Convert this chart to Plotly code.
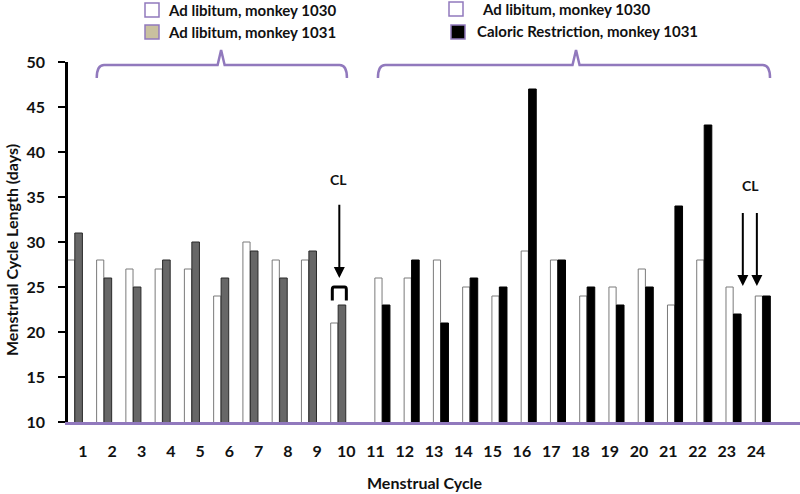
import plotly.graph_objects as go
import numpy as np

# ---- data ----
cycles = list(range(1, 25))
monkey1030 = [28, 28, 27, 27, 27, 24, 30, 28, 28, 21,
              26, 26, 28, 25, 24, 29, 28, 24, 25, 27, 23, 28, 25, 24]
monkey1031 = [31, 26, 25, 28, 30, 26, 29, 26, 29, 23,
              23, 28, 21, 26, 25, 47, 28, 25, 23, 25, 34, 43, 22, 24]
split = 10  # cycles 1-10 ad libitum, 11-24 caloric restriction for 1031
y_ticks = list(range(10, 51, 5))

legend_left = ["Ad libitum, monkey 1030", "Ad libitum, monkey 1031"]
legend_right = ["Ad libitum, monkey 1030", "Caloric Restriction, monkey 1031"]

FONT = "Lato"
PURPLE = "#9179bd"
INK = "#111111"

# geometry in screenshot pixels (body margin removed via post_script)
SL, ST, H = 68, 62, 360
W = 800 - SL
L, T = SL, ST
PITCH = 29.26                    # px per cycle
X0 = 1 - (83 - SL) / PITCH       # axis start so that cycle 1 sits at x=83
X1 = X0 + W / PITCH

def px(x):
    return (x - SL) / W
def py(y):
    return (ST + H - y) / H

c1 = np.array(cycles[:split]); c2 = np.array(cycles[split:])
shift1, shift2 = -0.28, 0.23
ww, wd = 0.245, 0.26

fig = go.Figure()
fig.add_trace(go.Bar(x=c1, y=monkey1030[:split],
                     offset=shift1 - ww - 0.01, width=ww,
                     marker=dict(color="white", line=dict(color="#7a7a7a", width=1))))
fig.add_trace(go.Bar(x=c1, y=monkey1031[:split],
                     offset=shift1, width=wd,
                     marker=dict(color="#676767", line=dict(color="#2a2a2a", width=1))))
fig.add_trace(go.Bar(x=c2, y=monkey1030[split:],
                     offset=shift2 - ww - 0.01, width=ww,
                     marker=dict(color="white", line=dict(color="#7a7a7a", width=1))))
fig.add_trace(go.Bar(x=c2, y=monkey1031[split:],
                     offset=shift2, width=wd,
                     marker=dict(color="black", line=dict(color="black", width=1))))

shapes = []
# brackets
def bracket(x0, x1, xc):
    yt = py(65); yb = py(78); yp = py(50)
    d = 0.25
    path = (f"M {x0},{yb} Q {x0},{yt} {x0 + d},{yt} L {xc - 0.12},{yt} "
            f"L {xc},{yp} L {xc + 0.12},{yt} L {x1 - d},{yt} Q {x1},{yt} {x1},{yb}")
    return dict(type="path", path=path, xref="x", yref="paper",
                line=dict(color=PURPLE, width=2.5))
shapes.append(bracket(1.47, 10.02, 5.72))
shapes.append(bracket(11.08, 24.48, 17.85))

# the small cap over cycle 10 bars
x0, x1, yt, yb = 9.52, 10.0, 25.0, 23.5
shapes.append(dict(type="path", xref="x", yref="y",
                   path=f"M {x0},{yb} L {x0},{yt - 0.3} Q {x0},{yt} {x0 + 0.06},{yt} "
                        f"L {x1 - 0.06},{yt} Q {x1},{yt} {x1},{yt - 0.3} L {x1},{yb}",
                   line=dict(color="black", width=3)))

# legend boxes
def box(x, y, fill):
    return dict(type="rect", xref="paper", yref="paper",
                x0=px(x), x1=px(x + 14), y0=py(y + 14), y1=py(y),
                fillcolor=fill, line=dict(color=PURPLE, width=1.5))
shapes += [box(145, 3, "white"), box(145, 25, "#c9c19f"),
           box(449, 2, "white"), box(451, 25, "black")]

annotations = []
tf = dict(family=FONT, size=15, color=INK)
def ptext(t, x, y, **kw):
    d = dict(text=t, xref="paper", yref="paper", x=px(x), y=py(y),
             xanchor="left", yanchor="middle", showarrow=False, font=tf)
    d.update(kw)
    return d
annotations += [ptext(f"<b>{legend_left[0]}</b>", 166, 10),
                ptext(f"<b>{legend_left[1]}</b>", 166, 32),
                ptext(f"<b>{legend_right[0]}</b>", 480, 9),
                ptext(f"<b>{legend_right[1]}</b>", 475, 31)]

# CL labels and arrows
cl_font = dict(family=FONT, size=14, color=INK)
annotations.append(dict(text="<b>CL</b>", x=9.72, y=37.0, showarrow=False, font=cl_font,
                        xanchor="center", yanchor="middle"))
annotations.append(dict(text="<b>CL</b>", x=23.82, y=36.3, showarrow=False, font=cl_font,
                        xanchor="center", yanchor="middle"))
for xa, yh, yt_ in [(9.76, 26.0, 34.3), (23.55, 25.1, 33.4), (24.03, 25.1, 33.4)]:
    annotations.append(dict(text="", x=xa, y=yh, ax=xa, ay=yt_, axref="x", ayref="y",
                            showarrow=True, arrowhead=2, arrowsize=1.1, arrowwidth=2,
                            arrowcolor="black"))

# axis titles
annotations.append(ptext("<b>Menstrual Cycle</b>", 425, 482, xanchor="center",
                         font=dict(family=FONT, size=16, color=INK)))
annotations.append(ptext("<b>Menstrual Cycle Length (days)</b>", 12, 250,
                         xanchor="center", textangle=-90,
                         font=dict(family=FONT, size=16, color=INK)))

fig.update_layout(
    width=800, height=494,
    margin=dict(l=L, r=0, t=T, b=494 - T - H, autoexpand=False),
    paper_bgcolor="white", plot_bgcolor="white",
    barmode="overlay", showlegend=False,
    shapes=shapes, annotations=annotations,
    xaxis=dict(range=[X0, X1], tickmode="array", tickvals=cycles,
               ticktext=[f"<b>{c}</b>" for c in cycles], showgrid=False, zeroline=False,
               showline=True, linecolor=PURPLE, linewidth=3, ticks="",
               ticklabelstandoff=13, automargin=False,
               tickfont=dict(family=FONT, size=16, color=INK)),
    yaxis=dict(range=[10, 50], tickmode="array", tickvals=y_ticks,
               ticktext=[f"<b>{v}</b>" for v in y_ticks], showgrid=False,
               zeroline=False, showline=True, linecolor="black", linewidth=2.5,
               ticks="outside", ticklen=7, tickwidth=2, tickcolor="black",
               ticklabelstandoff=10, automargin=False,
               tickfont=dict(family=FONT, size=16, color=INK)),
)

fig.write_html("out.html", config={"displayModeBar": False},
               post_script="document.body.style.margin='0';document.body.style.padding='0';")
